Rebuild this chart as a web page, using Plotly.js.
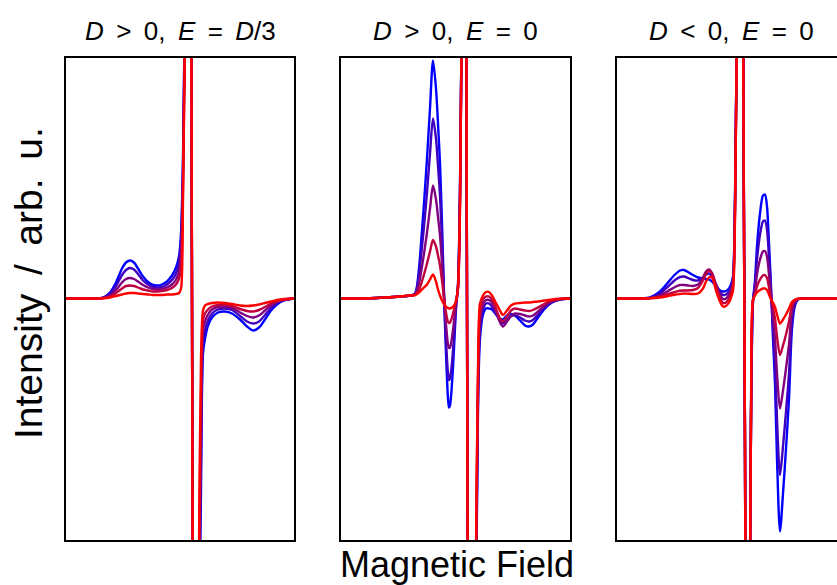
<!DOCTYPE html>
<html><head><meta charset="utf-8">
<script src="https://cdn.plot.ly/plotly-3.0.1.min.js"></script>
<style>html,body{margin:0;padding:0;overflow:hidden;background:#fff;width:837px;height:585px}#chart{width:880px;height:585px}</style>
</head><body><div id="chart"></div><script>
// Panel titles and axis labels
const panelTitles = [
  "<i>D</i>\u00a0\u2009&gt;\u00a0\u20090,\u00a0\u2009<i>E</i>\u00a0\u2009=\u00a0\u2009<i>D</i>/3",
  "<i>D</i>\u00a0\u2009&gt;\u00a0\u20090,\u00a0\u2009<i>E</i>\u00a0\u2009=\u00a0\u20090",
  "<i>D</i>\u00a0\u2009&lt;\u00a0\u20090,\u00a0\u2009<i>E</i>\u00a0\u2009=\u00a0\u20090"
];
const xLabel = "Magnetic Field";
const yLabel = "Intensity\u00a0\u2009/\u00a0\u2009arb.\u00a0\u2009u.";
const seriesColors = ["rgb(0,0,255)", "rgb(64,0,191)", "rgb(128,0,128)", "rgb(191,0,64)", "rgb(255,0,0)"];

// Panel 1: D > 0, E = D/3
const p1Field = [0, 29, 37, 44, 50, 56, 60, 64, 68, 72, 77, 82, 87, 91, 96, 101, 106, 110, 113, 115, 117, 119, 121, 123, 125, 127, 129, 131, 133, 135, 137, 139, 142, 146, 152, 159, 166, 174, 181, 187, 193, 199, 205, 211, 218, 228];
const p1S1 = [0, 0, 1, 6, 16, 30, 36, 38, 36, 30, 22, 16.5, 13.5, 13, 14, 17, 23, 31, 42, 65, 140, 320, 800, 1000, 400, -400, -1000, -750, -360, -190, -55, -40, -27, -19, -14, -13, -15, -21, -28, -32, -29, -21, -12, -6, -2, 0];
const p1S2 = [0, 0, 0.7, 4.5, 12.5, 23.5, 28.5, 30.5, 29, 24.5, 18, 14, 11.5, 11, 11.5, 14, 18.5, 25, 35, 55, 130, 310, 800, 1000, 400, -400, -1000, -720, -330, -160, -45, -32, -22, -15, -11, -10, -11.5, -17.5, -23, -25, -23, -16.5, -9.5, -4.5, -1.5, 0];
const p1S3 = [0, 0, 0.5, 3, 8.5, 16, 19.5, 20.5, 19.5, 17, 13.5, 11, 9.5, 9, 9.5, 11, 14, 19, 27, 45, 120, 300, 800, 1000, 400, -400, -1000, -690, -300, -130, -32, -23, -16, -11, -8.5, -8, -9.5, -14, -17.5, -19, -17, -12, -7, -3.5, -1, 0];
const p1S4 = [0, 0, 0.3, 2, 5.5, 10, 12.5, 13, 12.5, 11, 9, 8, 7, 7, 7.5, 8.5, 10.5, 14, 20, 30, 110, 290, 800, 1000, 400, -400, -1000, -660, -280, -100, -22, -15, -11, -8, -6.5, -6, -7.5, -10.5, -12.5, -13, -11.5, -8.5, -5, -2.5, -1, 0];
const p1S5 = [0, 0, 0.2, 1, 2.5, 4, 5, 5.5, 5.5, 5, 4.5, 4, 3.5, 3.5, 3.5, 4, 4, 4.5, 5.5, 10, 100, 280, 800, 1000, 400, -400, -1000, -620, -250, -60, -12, -7, -5.5, -4.5, -4, -4.5, -5.5, -7, -7.5, -7, -6, -4.5, -3, -1.5, -0.5, 0];

// Panel 2: D > 0, E = 0
const p2Field = [0, 29, 44, 59, 69, 74, 78, 80, 83, 86, 89, 92, 95, 97, 99, 101, 103, 105, 107, 108, 109, 111, 113, 115, 117, 119, 121, 123, 125, 127, 129, 131, 133, 135, 137, 139, 142, 145, 148, 151, 155, 159, 162, 166, 170, 174, 179, 184, 188, 192, 197, 204, 211, 219, 229];
const p2S1 = [0, 0.3, 1, 2, 3, 5, 30, 55, 95, 140, 190, 238, 210, 175, 135, 75, 5, -55, -100, -109, -107, -85, -50, -10, 15, 110, 330, 1000, 400, -400, -1000, -800, -550, -330, -110, -40, -16, -10, -10, -11, -16, -20, -21, -17, -15.5, -17, -22, -27, -28, -26, -19, -10, -4, -1, 0];
const p2S2 = [0, 0.3, 1, 2, 3, 4.5, 23, 42, 72, 106, 145, 180, 160, 133, 103, 57, 4, -42, -75, -81.5, -80, -64, -38, -8, 12, 105, 330, 1000, 400, -400, -1000, -800, -540, -310, -100, -30, -11, -5, -5, -8, -15, -22, -25, -21, -17.5, -17, -19, -22, -23, -21.5, -16, -8.5, -3.5, -1, 0];
const p2S3 = [0, 0.3, 1, 2, 3, 4, 15, 26, 45, 66, 90, 113, 99, 82, 63, 35, 2, -26, -46, -49.5, -49, -39, -23, -5, 10, 100, 330, 1000, 400, -400, -1000, -800, -530, -290, -90, -22, -6, -1.5, -1.5, -4, -13, -24, -28, -23, -17.5, -15, -15.5, -17, -18, -17, -13, -7, -3, -0.5, 0];
const p2S4 = [0, 0.3, 1, 2, 3, 3.5, 8.5, 14, 24, 35, 47, 58.5, 52, 43, 33, 18, 1, -14, -23.5, -24.5, -24, -19, -11, -2, 10, 95, 330, 1000, 400, -400, -1000, -800, -520, -270, -80, -14, -1, 2, 2, -1, -10, -20, -23, -18, -12, -10, -11, -12, -12.5, -11.5, -9, -5, -2, -0.5, 0];
const p2S5 = [0, 0.3, 1, 2, 3, 3.5, 6, 8, 11, 14, 19, 24, 17, 9, 3, -2, -5.5, -8, -9.5, -10, -10, -9, -7, -3, 12, 90, 330, 1000, 400, -400, -1000, -800, -500, -250, -70, -5, 3, 6.5, 6.5, 3, -4.5, -12, -16.5, -12, -7, -5, -4.5, -4, -4, -3.5, -3, -2, -1, -0.3, 0];

// Panel 3: D < 0, E = 0
const p3Field = [0, 23, 33, 43, 51, 58, 63, 67, 71, 76, 81, 86, 89, 92, 95, 99, 103, 106, 109, 112, 114, 116, 118, 120, 122, 124, 126, 128, 130, 132, 134, 136, 138, 140, 143, 146, 148, 150, 152, 154, 156, 158, 160, 163, 166, 169, 172, 175, 178, 181, 185, 228];
const p3S1 = [0, 0, 1, 7, 16, 24, 28, 28.5, 26.5, 23.5, 21, 20, 19.5, 19, 17, 12.5, 8, 7, 7.5, 10, 14, 22, 100, 300, 1000, 900, 300, -150, -700, -450, -120, -3, 18, 52, 85, 103, 104, 92, 55, 12, -40, -85, -160, -233, -195, -150, -100, -30, -7, -1, 0, 0];
const p3S2 = [0, 0, 0.7, 5, 12, 18.5, 21.5, 22, 20.5, 18.5, 18, 21, 24, 25, 22, 14, 6.5, 3.5, 4, 7, 11, 19, 95, 300, 1000, 900, 300, -150, -700, -450, -120, -2.5, 13, 39, 64, 77, 78, 69, 41, 8, -30, -64, -121, -176.5, -148, -113, -75, -22, -5, -0.8, 0, 0];
const p3S3 = [0, 0, 0.5, 3, 7.5, 11.5, 13.5, 13.5, 13, 12.5, 14, 21, 27, 29, 25.5, 14, 4, -0.5, 0, 4, 8, 16, 90, 300, 1000, 900, 300, -150, -700, -450, -120, -2, 8, 24, 39, 47, 47.5, 42, 24, 3, -19, -40, -75, -110, -92, -70, -46, -13, -3, -0.5, 0, 0];
const p3S4 = [0, 0, 0.3, 1.8, 4.5, 6.5, 7.8, 8, 8, 8.5, 10.5, 18, 25, 28, 25, 12, 0.5, -4.5, -4, 0, 5, 13, 85, 300, 1000, 900, 300, -150, -700, -450, -120, -1.5, 4, 12, 19, 23, 23.5, 20.5, 11, 0, -9, -20, -38, -56.5, -47, -36, -23, -7, -2, -0.3, 0, 0];
const p3S5 = [0, 0, 0.2, 1, 2.5, 3.8, 4.5, 5, 4.8, 4.5, 5, 10, 17, 21, 21, 8, -3, -8, -7.5, -4, 1, 8, 80, 300, 1000, 900, 300, -150, -700, -450, -120, -1, 3, 6, 8.5, 10, 10, 8.5, 4, -1, -4, -8.5, -16, -25, -21, -16, -10, -3.5, -1, -0.2, 0, 0];

const W = 880, H = 585;
const panels = [
  {x: p1Field, ys: [p1S1, p1S2, p1S3, p1S4, p1S5], px: [66, 294]},
  {x: p2Field, ys: [p2S1, p2S2, p2S3, p2S4, p2S5], px: [341, 570]},
  {x: p3Field, ys: [p3S1, p3S2, p3S3, p3S4, p3S5], px: [617, 845]}
];
const yTopPx = 58, yBotPx = 540;
const yDom = [(H - yBotPx) / H, (H - yTopPx) / H];
const FONT = "Liberation Sans, Arial, sans-serif";

const traces = [];
const layout = {
  width: W, height: H,
  margin: {l: 0, r: 0, t: 0, b: 0},
  paper_bgcolor: "#fff", plot_bgcolor: "#fff",
  showlegend: false,
  font: {family: FONT, color: "#000"},
  annotations: []
};
panels.forEach((p, i) => {
  const sx = i === 0 ? "" : String(i + 1);
  p.ys.forEach((y, k) => {
    traces.push({
      type: "scatter", mode: "lines", x: p.x, y: y,
      xaxis: "x" + sx, yaxis: "y" + sx,
      line: {color: seriesColors[k], width: 2.4, shape: "spline", smoothing: 0.8},
      hoverinfo: "skip"
    });
  });
  layout["xaxis" + sx] = {
    domain: [p.px[0] / W, p.px[1] / W], range: [0, p.px[1] - p.px[0]], anchor: "y" + sx,
    showline: true, mirror: true, linecolor: "#000", linewidth: 2,
    showgrid: false, zeroline: false, showticklabels: false, ticks: "", fixedrange: true
  };
  layout["yaxis" + sx] = {
    domain: yDom, range: [-241.5, 240.5], anchor: "x" + sx,
    showline: true, mirror: true, linecolor: "#000", linewidth: 2,
    showgrid: false, zeroline: false, showticklabels: false, ticks: "", fixedrange: true
  };
  layout.annotations.push({
    xref: "paper", yref: "paper", x: (p.px[0] + p.px[1]) / 2 / W, y: (H - 31) / H,
    xanchor: "center", yanchor: "middle", showarrow: false,
    text: panelTitles[i], font: {size: 26, color: "#000", family: FONT}
  });
});
layout.annotations.push({
  xref: "paper", yref: "paper", x: 457 / W, y: (H - 564) / H,
  xanchor: "center", yanchor: "middle", showarrow: false,
  text: xLabel, font: {size: 36, color: "#000", family: FONT}
});
layout.annotations.push({
  xref: "paper", yref: "paper", x: 29 / W, y: (H - 283) / H,
  xanchor: "center", yanchor: "middle", showarrow: false, textangle: -90,
  text: yLabel, font: {size: 39, color: "#000", family: FONT}
});
Plotly.newPlot("chart", traces, layout, {staticPlot: true, displayModeBar: false});
</script></body></html>
